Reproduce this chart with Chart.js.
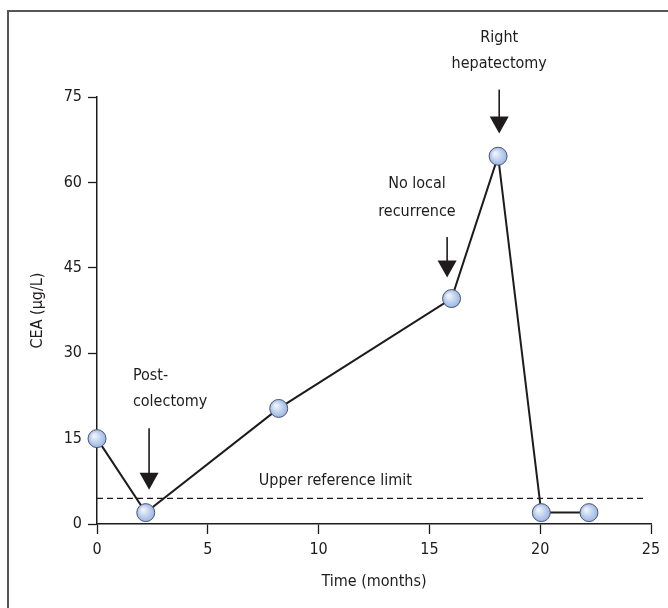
<!DOCTYPE html>
<html>
<head>
<meta charset="utf-8">
<script src="https://cdn.jsdelivr.net/npm/chart.js@4"></script>
<style>
  html, body { margin: 0; padding: 0; background: #fff; }
  #wrap { width: 668px; height: 608px; }
</style>
</head>
<body>
<div id="wrap"><canvas id="c" width="668" height="608"></canvas></div>
<script>
// ---- data ----
const timeMonths = [0, 2.2, 8.2, 16.0, 18.1, 20.05, 22.2];
const ceaValues  = [15, 2, 20.3, 39.6, 64.6, 2, 2];
const refLimitX  = [0, 24.8];
const refLimitY  = [4.5, 4.5];
const xTicks = [0, 5, 10, 15, 20, 25];
const yTicks = [0, 15, 30, 45, 60, 75];
// annotation arrows: x, top y, tip y (data units)
const arrowX   = [2.35, 15.8, 18.15];
const arrowTop = [16.8, 50.4, 76.3];
const arrowTip = [6.0, 43.3, 68.6];
// annotation texts
const noteTexts = ['Post-', 'colectomy', 'No local', 'recurrence', 'Right', 'hepatectomy', 'Upper reference limit'];
const noteX     = [1.62, 1.62, 14.44, 14.44, 18.15, 18.15, 7.3];
const noteY     = [26.0, 21.4, 59.8, 54.9, 85.4, 80.9, 7.5];
const noteAlign = ['left', 'left', 'center', 'center', 'center', 'center', 'left'];

const FONT = "'Liberation Sans Narrow', 'DejaVu Sans Condensed', 'Open Sans', sans-serif";
const TXT = '#1f1b1c';

const annotations = {
  id: 'annotations',
  beforeDraw(chart) {
    const ctx = chart.ctx;
    ctx.save();
    ctx.fillStyle = '#fff';
    ctx.fillRect(0, 0, chart.width, chart.height);
    ctx.strokeStyle = '#555';
    ctx.lineWidth = 2;
    ctx.beginPath();
    ctx.moveTo(8, chart.height);
    ctx.lineTo(8, 11);
    ctx.lineTo(chart.width, 11);
    ctx.stroke();
    ctx.restore();
  },
  afterDraw(chart) {
    const ctx = chart.ctx;
    const xs = chart.scales.x, ys = chart.scales.y;
    ctx.save();
    ctx.strokeStyle = TXT;
    ctx.fillStyle = TXT;
    for (let i = 0; i < arrowX.length; i++) {
      const px = xs.getPixelForValue(arrowX[i]);
      const pt = ys.getPixelForValue(arrowTop[i]);
      const pb = ys.getPixelForValue(arrowTip[i]);
      ctx.lineWidth = 1.6;
      ctx.beginPath();
      ctx.moveTo(px, pt);
      ctx.lineTo(px, pb - 14);
      ctx.stroke();
      ctx.beginPath();
      ctx.moveTo(px - 9.5, pb - 17);
      ctx.lineTo(px + 9.5, pb - 17);
      ctx.lineTo(px, pb);
      ctx.closePath();
      ctx.fill();
    }
    ctx.font = '16px ' + FONT;
    ctx.textBaseline = 'middle';
    for (let i = 0; i < noteTexts.length; i++) {
      ctx.textAlign = noteAlign[i];
      ctx.fillText(noteTexts[i], xs.getPixelForValue(noteX[i]), ys.getPixelForValue(noteY[i]));
    }
    ctx.restore();
  }
};

function pointFill(c) {
  const chart = c.chart;
  if (!c.parsed || !chart.scales || !chart.scales.x || !chart.scales.y) return '#b7cbec';
  const x = chart.scales.x.getPixelForValue(c.parsed.x);
  const y = chart.scales.y.getPixelForValue(c.parsed.y);
  if (!isFinite(x) || !isFinite(y)) return '#b7cbec';
  const g = chart.ctx.createRadialGradient(x - 3, y - 3, 1, x, y, 9.5);
  g.addColorStop(0, '#eef3fb');
  g.addColorStop(0.55, '#bccfee');
  g.addColorStop(1, '#98b2de');
  return g;
}

new Chart(document.getElementById('c'), {
  type: 'scatter',
  data: {
    datasets: [
      {
        data: refLimitX.map((x, i) => ({ x, y: refLimitY[i] })),
        showLine: true,
        borderColor: TXT,
        borderWidth: 1.4,
        borderDash: [6, 4],
        pointRadius: 0,
        order: 2
      },
      {
        data: timeMonths.map((x, i) => ({ x, y: ceaValues[i] })),
        showLine: true,
        borderColor: TXT,
        borderWidth: 2,
        pointRadius: 9,
        pointBorderWidth: 1,
        pointBorderColor: '#4a5772',
        pointBackgroundColor: pointFill,
        order: 1,
        clip: false
      }
    ]
  },
  plugins: [annotations],
  options: {
    responsive: false,
    animation: false,
    layout: { padding: { top: 97, right: 17, left: 0, bottom: 0 } },
    plugins: { legend: { display: false }, tooltip: { enabled: false } },
    scales: {
      x: {
        type: 'linear',
        min: 0, max: 25,
        afterFit(s) { s.height = 84; },
        afterBuildTicks(s) { s.ticks = xTicks.map(v => ({ value: v })); },
        grid: { display: true, drawOnChartArea: false, tickLength: 10, color: TXT, tickWidth: 1.3 },
        border: { display: true, color: TXT, width: 1.5 },
        ticks: { color: TXT, font: { family: FONT, size: 16 }, padding: 6 },
        title: { display: true, text: 'Time (months)', color: TXT, font: { family: FONT, size: 16 }, padding: { top: 0, bottom: 17 } }
      },
      y: {
        type: 'linear',
        min: 0, max: 75,
        afterFit(s) { s.width = 97; },
        afterBuildTicks(s) { s.ticks = yTicks.map(v => ({ value: v })); },
        grid: { display: true, drawOnChartArea: false, tickLength: 9, color: TXT, tickWidth: 1.3 },
        border: { display: true, color: TXT, width: 1.5 },
        ticks: { color: TXT, font: { family: FONT, size: 16 }, padding: 6 },
        title: { display: true, text: 'CEA (µg/L)', color: TXT, font: { family: FONT, size: 16 }, padding: { top: 28, bottom: 0 } }
      }
    }
  }
});
</script>
</body>
</html>
